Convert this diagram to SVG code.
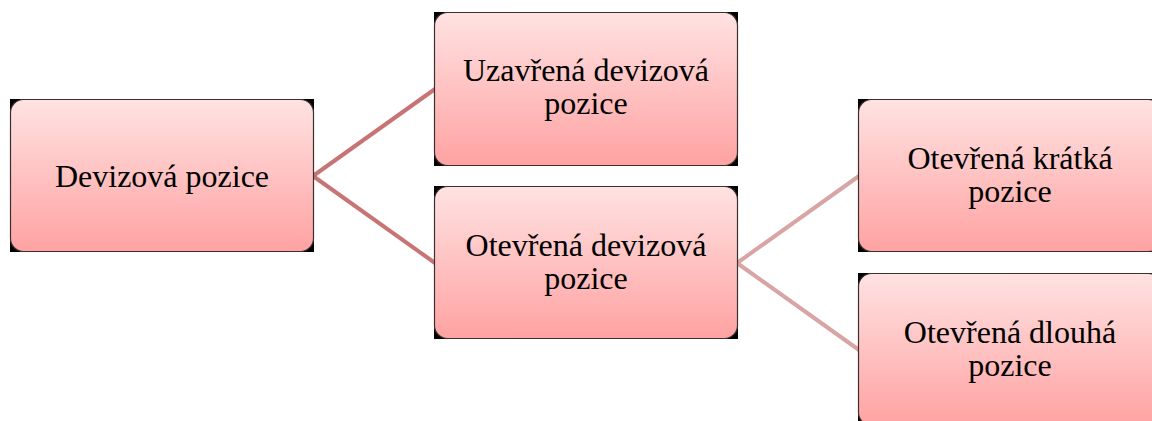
<svg xmlns="http://www.w3.org/2000/svg" width="1152" height="421" viewBox="0 0 1152 421">
  <defs>
    <linearGradient id="boxFill" x1="0" y1="0" x2="0" y2="1">
      <stop offset="0" stop-color="#ffe2e2"/>
      <stop offset="1" stop-color="#ffa2a2"/>
    </linearGradient>
    <style>
      .corner { fill: #000; }
      .card { fill: url(#boxFill); stroke: #3a3030; stroke-width: 1.2; }
      .label { font-family: "Liberation Serif", "Times New Roman", serif; font-size: 32px; fill: #000; text-anchor: middle; }
      .link1 { stroke: #c87474; stroke-width: 4; fill: none; }
      .link2 { stroke: #d9a4a4; stroke-width: 4; fill: none; }
    </style>
  </defs>
  <rect width="1152" height="421" fill="#fff"/>

  <g id="connectors">
    <line class="link1" x1="313" y1="176" x2="435" y2="89"/>
    <line class="link1" x1="313" y1="176" x2="435" y2="263"/>
    <line class="link2" x1="737" y1="263" x2="859" y2="176"/>
    <line class="link2" x1="737" y1="263" x2="859" y2="350"/>
  </g>

  <g id="devizova-pozice">
    <rect class="corner" x="10" y="99" width="304" height="153"/>
    <rect class="card" x="10.5" y="99.5" width="303" height="152" rx="13"/>
    <text class="label" x="162" y="187">Devizová pozice</text>
  </g>

  <g id="uzavrena-devizova-pozice">
    <rect class="corner" x="434" y="12" width="304" height="154"/>
    <rect class="card" x="434.5" y="12.5" width="303" height="153" rx="13"/>
    <text class="label" x="586" y="81">Uzavřená devizová</text>
    <text class="label" x="586" y="114">pozice</text>
  </g>

  <g id="otevrena-devizova-pozice">
    <rect class="corner" x="434" y="186" width="304" height="153"/>
    <rect class="card" x="434.5" y="186.5" width="303" height="152" rx="13"/>
    <text class="label" x="586" y="256">Otevřená devizová</text>
    <text class="label" x="586" y="289">pozice</text>
  </g>

  <g id="otevrena-kratka-pozice">
    <rect class="corner" x="858" y="99" width="304" height="153"/>
    <rect class="card" x="858.5" y="99.5" width="303" height="152" rx="13"/>
    <text class="label" x="1010" y="169">Otevřená krátká</text>
    <text class="label" x="1010" y="202">pozice</text>
  </g>

  <g id="otevrena-dlouha-pozice">
    <rect class="corner" x="858" y="273" width="304" height="153"/>
    <rect class="card" x="858.5" y="273.5" width="303" height="152" rx="13"/>
    <text class="label" x="1010" y="343">Otevřená dlouhá</text>
    <text class="label" x="1010" y="376">pozice</text>
  </g>
</svg>
